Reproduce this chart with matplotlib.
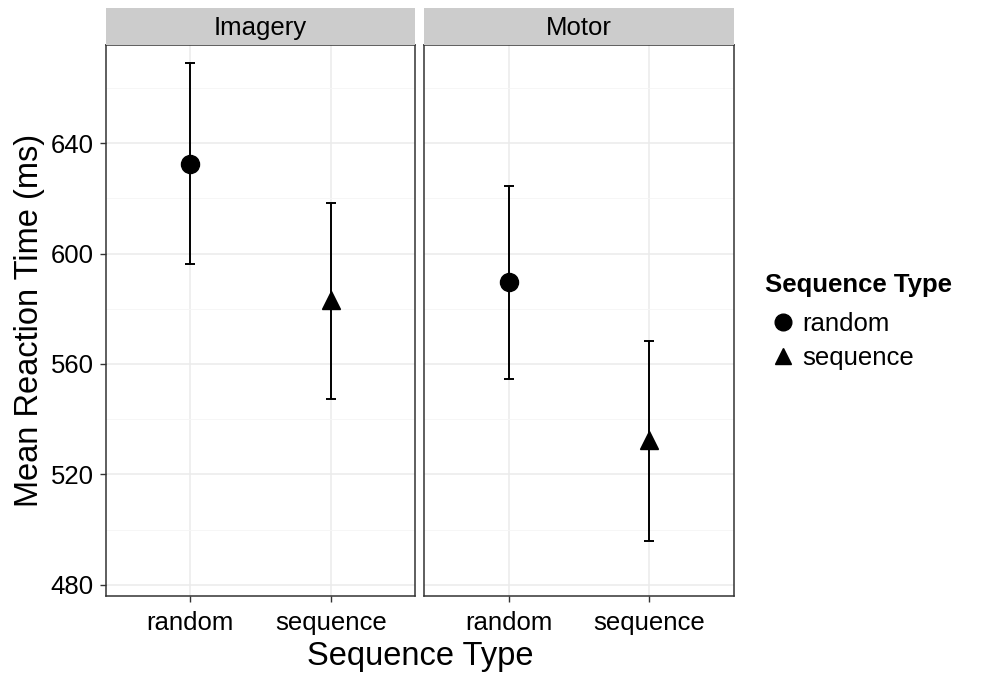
import numpy as np
import matplotlib.pyplot as plt
from matplotlib.lines import Line2D

plt.rcParams['font.family'] = ['Liberation Sans', 'DejaVu Sans']

# mean reaction time per condition, with error bar limits
panels = ["Imagery", "Motor"]
seq_types = ["random", "sequence"]
mean_rt = {"Imagery": [632.4, 583.2], "Motor": [589.6, 532.5]}
lower_rt = {"Imagery": [596.2, 547.3], "Motor": [554.6, 495.9]}
upper_rt = {"Imagery": [669.0, 618.3], "Motor": [624.4, 568.3]}
markers = ["o", "^"]

W, H = 987, 675
fig = plt.figure(figsize=(W / 100, H / 100), dpi=100)

def px_box(x0, y0, x1, y1):
    return [x0 / W, 1 - y1 / H, (x1 - x0) / W, (y1 - y0) / H]

panel_x = [(106, 415), (424, 734)]
y_top, y_bot, strip_top = 45, 596, 8
ylim = (476.0, 675.5)
frame_col = "#333333"
fs_tick = 18.5
fs_title = 23.5

for i, name in enumerate(panels):
    x0, x1 = panel_x[i]
    ax = fig.add_axes(px_box(x0, y_top, x1, y_bot))
    xs = np.arange(1, len(seq_types) + 1)
    ax.set_xlim(0.4, 2.6)
    ax.set_ylim(*ylim)

    # grid
    ax.set_yticks([480, 520, 560, 600, 640])
    ax.set_yticks([500, 540, 580, 620, 660], minor=True)
    ax.set_xticks(xs)
    ax.grid(which="major", color="#EBEBEB", linewidth=1.1, zorder=0)
    ax.grid(which="minor", axis="y", color="#F5F5F5", linewidth=0.6, zorder=0)
    ax.set_axisbelow(True)

    m = np.array(mean_rt[name])
    lo = np.array(lower_rt[name])
    hi = np.array(upper_rt[name])
    ax.errorbar(xs, m, yerr=[m - lo, hi - m], fmt="none", ecolor="black",
                elinewidth=1.4, capsize=3.5, capthick=1.4, zorder=2)
    for xv, yv, mk in zip(xs, m, markers):
        ax.plot(xv, yv, marker=mk, color="black", markersize=13 if mk == "o" else 13.5,
                linestyle="none", zorder=3)

    for sp in ax.spines.values():
        sp.set_color(frame_col)
        sp.set_linewidth(1.1)
    ax.tick_params(which="major", length=4, width=1.0, color=frame_col,
                   labelsize=fs_tick, labelcolor="black", pad=5)
    ax.tick_params(axis="x", pad=7)
    ax.tick_params(which="minor", length=0)
    ax.set_xticklabels(seq_types, fontsize=fs_tick)
    if i == 0:
        ax.set_ylabel("Mean Reaction Time (ms)", fontsize=fs_title, labelpad=4)
    else:
        ax.tick_params(axis="y", which="both", left=False, labelleft=False)

    # facet strip
    sax = fig.add_axes(px_box(x0, strip_top, x1, y_top))
    sax.set_facecolor("#CCCCCC")
    sax.set_xticks([])
    sax.set_yticks([])
    for sp in sax.spines.values():
        sp.set_visible(False)
    sax.text(0.5, 0.45, name, ha="center", va="center", fontsize=fs_tick,
             transform=sax.transAxes)

fig.text(420 / W, 1 - 656 / H, "Sequence Type", ha="center", va="center", fontsize=fs_title)

# legend
handles = [Line2D([], [], marker=mk, color="black", linestyle="none", markersize=12)
           for mk in markers]
leg = fig.legend(handles, seq_types, title="Sequence Type", loc="upper left",
                 bbox_to_anchor=(744 / W, 1 - 252 / H), frameon=False, fontsize=fs_tick,
                 title_fontproperties={"weight": "bold", "size": 18.5},
                 handletextpad=0.05, labelspacing=0.4, handlelength=1.4,
                 borderpad=0.3)
leg._legend_box.align = "left"
leg._legend_box.sep = 11

fig.savefig("out.png", dpi=100)
